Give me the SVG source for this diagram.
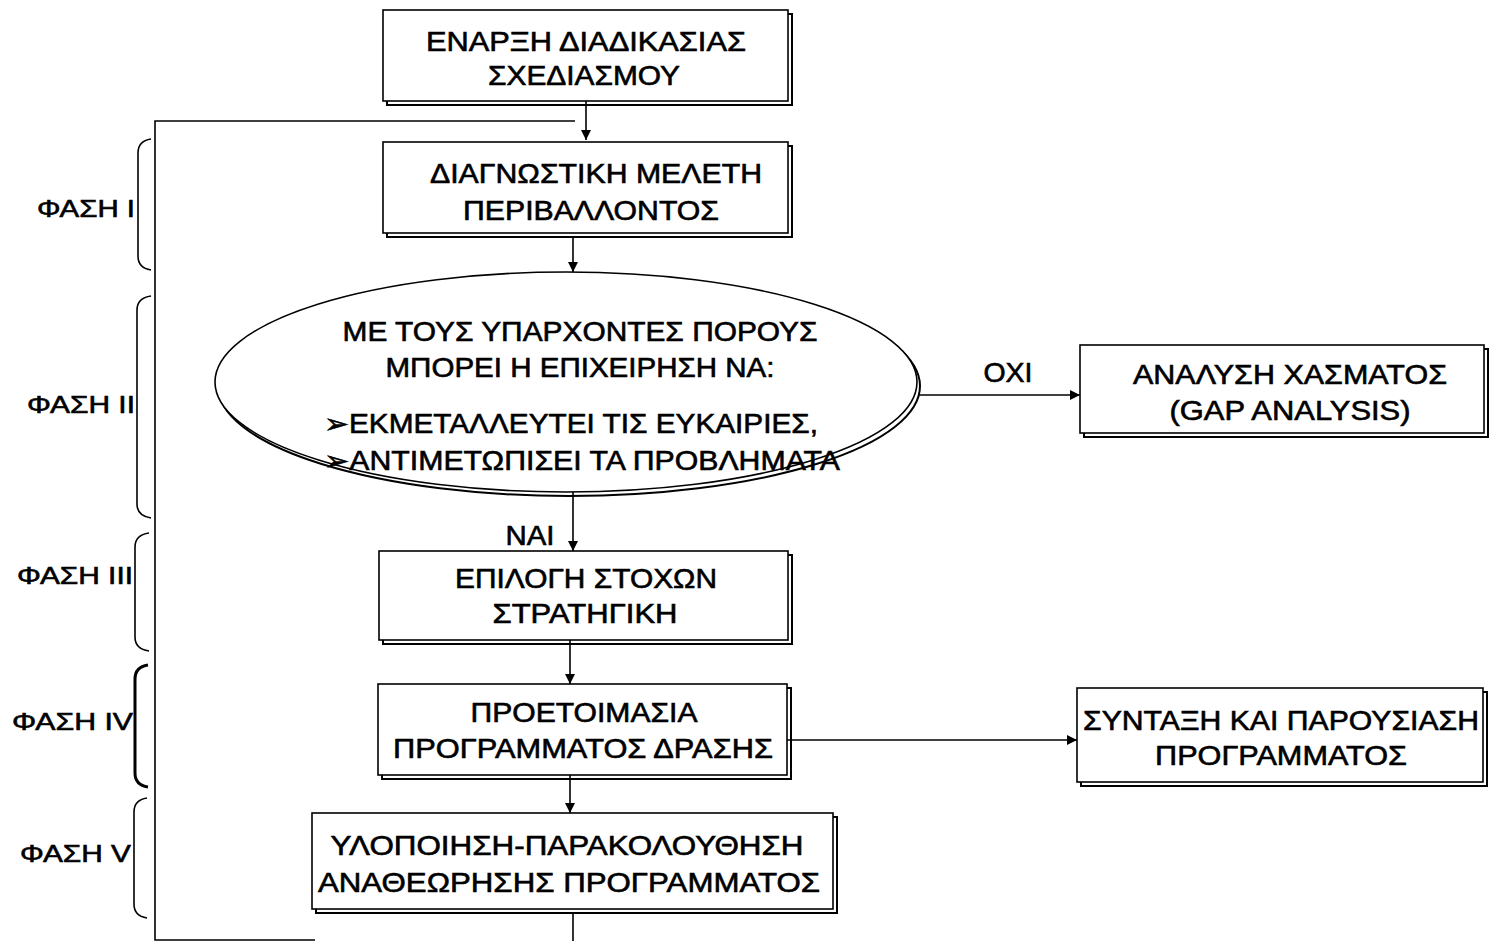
<svg xmlns="http://www.w3.org/2000/svg" width="1492" height="941" viewBox="0 0 1492 941">
<style>
text{font-family:"Liberation Sans",Arial,"DejaVu Sans",sans-serif;fill:#000;stroke:#000;stroke-width:0.6;text-anchor:middle}
.t{font-size:27px}
.ph{font-size:24px;text-anchor:start}
.box{fill:#fff;stroke:#000;stroke-width:1.6}
.sh{fill:none;stroke:#000;stroke-width:2}
.ln{fill:none;stroke:#000;stroke-width:1.6}
.br{fill:none;stroke:#000;stroke-width:1.6}
</style>
<defs>
<marker id="ah" viewBox="0 0 10 10" refX="10" refY="5" markerWidth="10" markerHeight="10" markerUnits="userSpaceOnUse" orient="auto">
<path d="M0,0 L10,5 L0,10 z" fill="#000"/>
</marker>
</defs>
<g id="connectors">
<path class="ln" d="M586,101 V140" marker-end="url(#ah)"/>
<path class="ln" d="M315,940 H155 V121 H575"/>
<path class="ln" d="M573,236 V272" marker-end="url(#ah)"/>
<path class="ln" d="M918,395 H1080" marker-end="url(#ah)"/>
<path class="ln" d="M573,492 V551" marker-end="url(#ah)"/>
<path class="ln" d="M570,640 V684" marker-end="url(#ah)"/>
<path class="ln" d="M787,740 H1077" marker-end="url(#ah)"/>
<path class="ln" d="M570,775 V813" marker-end="url(#ah)"/>
<path class="ln" d="M573,913 V941"/>
</g>
<g id="start">
<rect class="sh" x="387" y="14" width="405" height="91"/>
<rect class="box" x="383" y="10" width="405" height="91"/>
<text class="t" x="586" y="51" textLength="320" lengthAdjust="spacingAndGlyphs">ΕΝΑΡΞΗ ΔΙΑΔΙΚΑΣΙΑΣ</text>
<text class="t" x="584" y="85" textLength="192" lengthAdjust="spacingAndGlyphs">ΣΧΕΔΙΑΣΜΟΥ</text>
</g>
<g id="diagnostic">
<rect class="sh" x="387" y="146" width="405" height="91"/>
<rect class="box" x="383" y="142" width="405" height="91"/>
<text class="t" x="596" y="183" textLength="332" lengthAdjust="spacingAndGlyphs">ΔΙΑΓΝΩΣΤΙΚΗ ΜΕΛΕΤΗ</text>
<text class="t" x="591" y="220" textLength="256" lengthAdjust="spacingAndGlyphs">ΠΕΡΙΒΑΛΛΟΝΤΟΣ</text>
</g>
<g id="decision">
<ellipse class="sh" cx="569" cy="386" rx="351" ry="110"/>
<ellipse class="box" cx="566" cy="382" rx="351" ry="110"/>
<text class="t" x="580" y="341" textLength="475" lengthAdjust="spacingAndGlyphs">ΜΕ ΤΟΥΣ ΥΠΑΡΧΟΝΤΕΣ ΠΟΡΟΥΣ</text>
<text class="t" x="580" y="377" textLength="389" lengthAdjust="spacingAndGlyphs">ΜΠΟΡΕΙ Η ΕΠΙΧΕΙΡΗΣΗ ΝΑ:</text>
<text class="t" x="571" y="433" textLength="494" lengthAdjust="spacingAndGlyphs">➢ΕΚΜΕΤΑΛΛΕΥΤΕΙ ΤΙΣ ΕΥΚΑΙΡΙΕΣ,</text>
<text class="t" x="582" y="470" textLength="516" lengthAdjust="spacingAndGlyphs">➢ΑΝΤΙΜΕΤΩΠΙΣΕΙ ΤΑ ΠΡΟΒΛΗΜΑΤΑ</text>
</g>
<g id="label-oxi"><text class="t" x="1008" y="382" textLength="49" lengthAdjust="spacingAndGlyphs">ΟΧΙ</text></g>
<g id="label-nai"><text class="t" x="530" y="545" textLength="49" lengthAdjust="spacingAndGlyphs">ΝΑΙ</text></g>
<g id="gap">
<rect class="sh" x="1084" y="349" width="404" height="88"/>
<rect class="box" x="1080" y="345" width="404" height="88"/>
<text class="t" x="1290" y="384" textLength="314" lengthAdjust="spacingAndGlyphs">ΑΝΑΛΥΣΗ ΧΑΣΜΑΤΟΣ</text>
<text class="t" x="1290" y="420" textLength="241" lengthAdjust="spacingAndGlyphs">(GAP ANALYSIS)</text>
</g>
<g id="goals">
<rect class="sh" x="383" y="555" width="409" height="89"/>
<rect class="box" x="379" y="551" width="409" height="89"/>
<text class="t" x="586" y="588" textLength="262" lengthAdjust="spacingAndGlyphs">ΕΠΙΛΟΓΗ ΣΤΟΧΩΝ</text>
<text class="t" x="585" y="623" textLength="185" lengthAdjust="spacingAndGlyphs">ΣΤΡΑΤΗΓΙΚΗ</text>
</g>
<g id="prepare">
<rect class="sh" x="382" y="688" width="409" height="91"/>
<rect class="box" x="378" y="684" width="409" height="91"/>
<text class="t" x="584" y="722" textLength="227" lengthAdjust="spacingAndGlyphs">ΠΡΟΕΤΟΙΜΑΣΙΑ</text>
<text class="t" x="583" y="758" textLength="380" lengthAdjust="spacingAndGlyphs">ΠΡΟΓΡΑΜΜΑΤΟΣ ΔΡΑΣΗΣ</text>
</g>
<g id="compose">
<rect class="sh" x="1081" y="692" width="406" height="94"/>
<rect class="box" x="1077" y="688" width="406" height="94"/>
<text class="t" x="1281" y="730" textLength="396" lengthAdjust="spacingAndGlyphs">ΣΥΝΤΑΞΗ ΚΑΙ ΠΑΡΟΥΣΙΑΣΗ</text>
<text class="t" x="1281" y="765" textLength="252" lengthAdjust="spacingAndGlyphs">ΠΡΟΓΡΑΜΜΑΤΟΣ</text>
</g>
<g id="implement">
<rect class="sh" x="316" y="817" width="521" height="96"/>
<rect class="box" x="312" y="813" width="521" height="96"/>
<text class="t" x="567" y="855" textLength="473" lengthAdjust="spacingAndGlyphs">ΥΛΟΠΟΙΗΣΗ-ΠΑΡΑΚΟΛΟΥΘΗΣΗ</text>
<text class="t" x="569" y="892" textLength="502" lengthAdjust="spacingAndGlyphs">ΑΝΑΘΕΩΡΗΣΗΣ ΠΡΟΓΡΑΜΜΑΤΟΣ</text>
</g>
<g id="phase1">
<path class="br" d="M151,139 Q138,141 138,153 V256 Q138,268 151,270"/>
<text class="ph" x="37" y="217" textLength="98" lengthAdjust="spacingAndGlyphs">ΦΑΣΗ Ι</text>
</g>
<g id="phase2">
<path class="br" d="M151,296 Q137,298 137,310 V504 Q137,516 151,518"/>
<text class="ph" x="27" y="413" textLength="108" lengthAdjust="spacingAndGlyphs">ΦΑΣΗ ΙΙ</text>
</g>
<g id="phase3">
<path class="br" d="M149,533 Q135,535 135,547 V637 Q135,649 149,651"/>
<text class="ph" x="17" y="584" textLength="116" lengthAdjust="spacingAndGlyphs">ΦΑΣΗ ΙΙΙ</text>
</g>
<g id="phase4">
<path class="br" style="stroke-width:3" d="M148,665 Q135,667 135,679 V773 Q135,785 148,787"/>
<text class="ph" x="12" y="730" textLength="121" lengthAdjust="spacingAndGlyphs">ΦΑΣΗ IV</text>
</g>
<g id="phase5">
<path class="br" d="M147,798 Q134,800 134,812 V904 Q134,916 147,918"/>
<text class="ph" x="20" y="862" textLength="111" lengthAdjust="spacingAndGlyphs">ΦΑΣΗ V</text>
</g>
</svg>
